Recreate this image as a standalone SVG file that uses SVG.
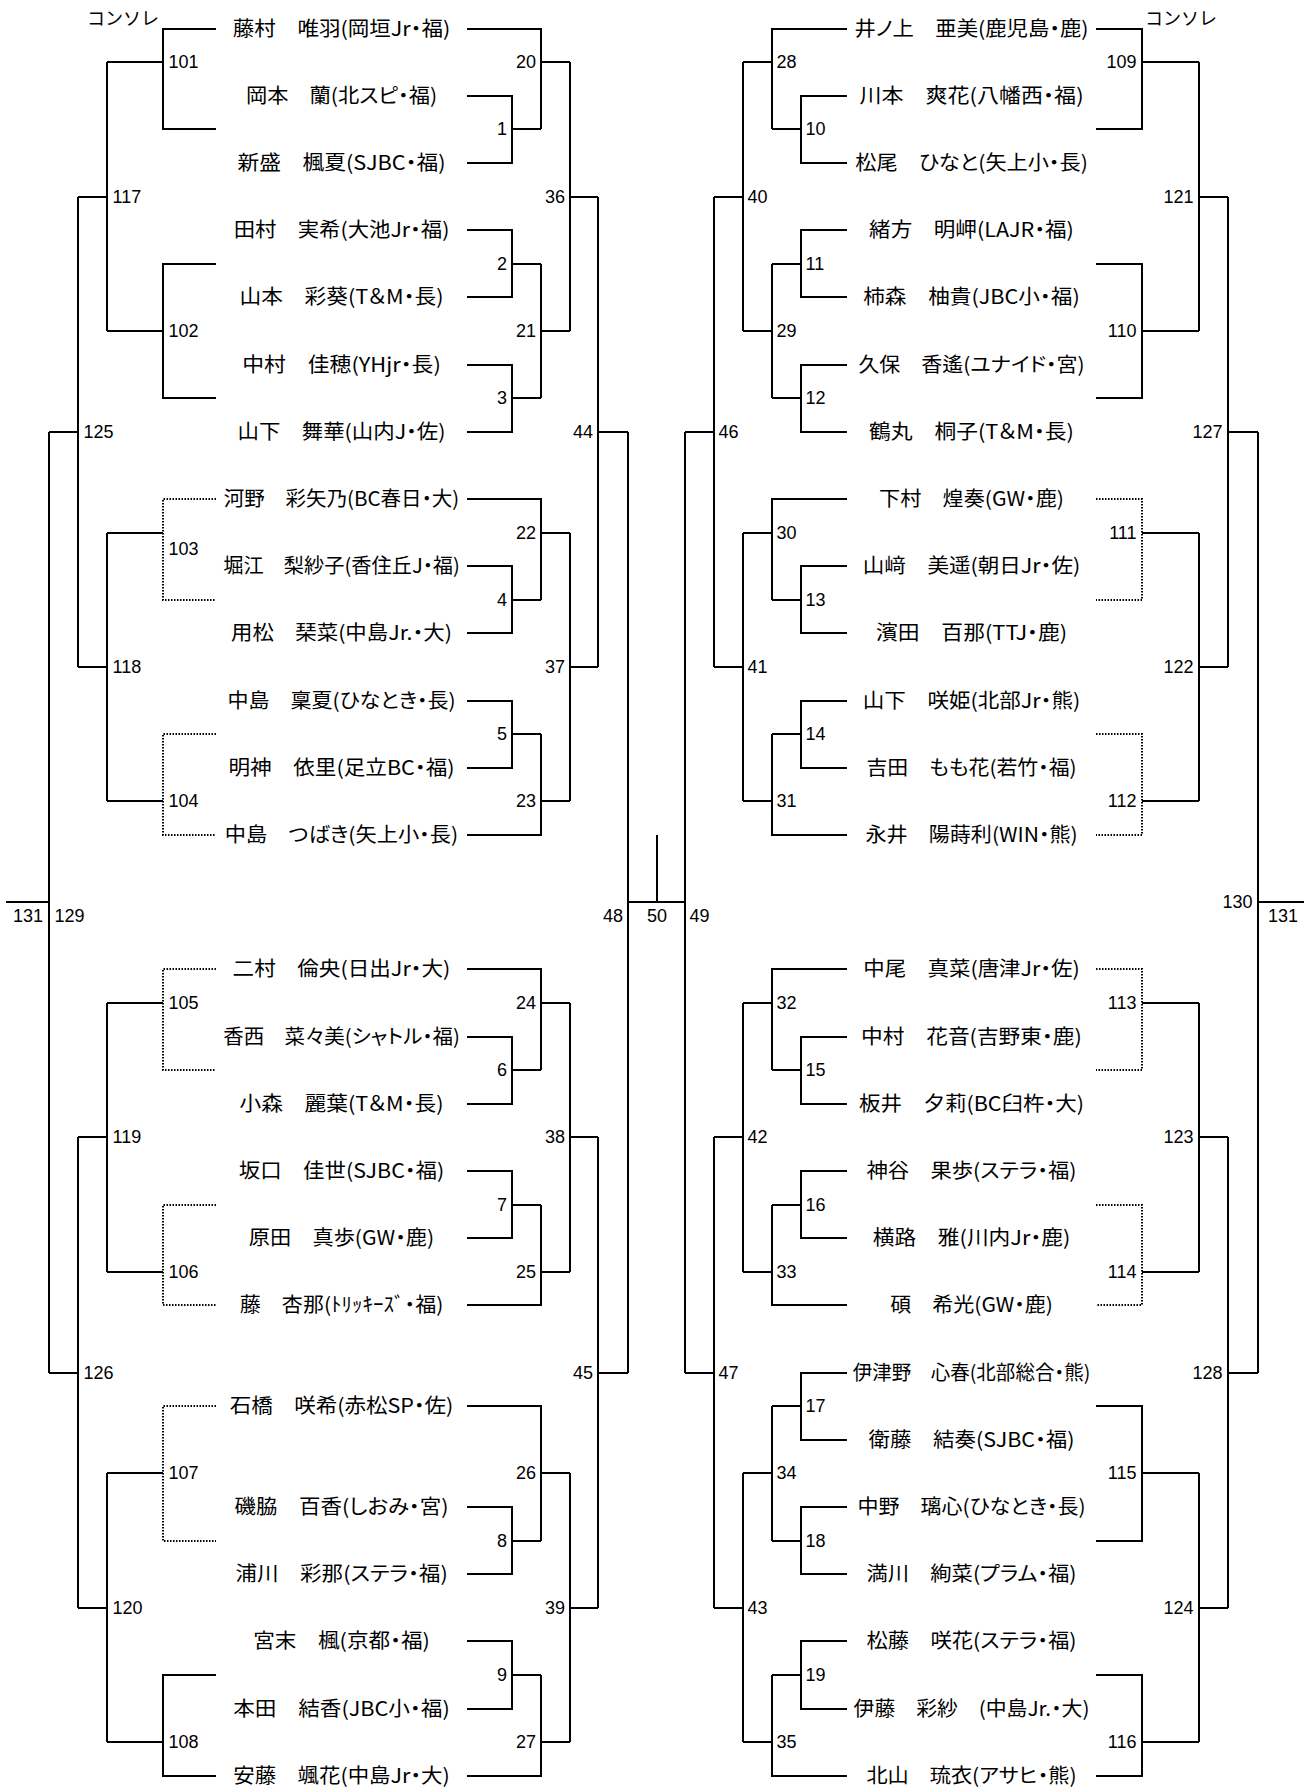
<svg xmlns="http://www.w3.org/2000/svg" width="1311" height="1790" viewBox="0 0 1311 1790">
<style>
.c{fill:none;stroke:#000;stroke-width:2}
.d{fill:none;stroke:#000;stroke-width:2;stroke-dasharray:1.5 1.5}
.n{font-family:"Noto Sans CJK JP","Noto Sans CJK SC",sans-serif;font-size:20px;fill:#000;font-feature-settings:"palt" 1}
.l{font-family:"Liberation Sans",Arial,sans-serif;font-size:18px;fill:#000}
.e{text-anchor:end}
.m{text-anchor:middle}
.h{font-family:"Noto Sans CJK JP",sans-serif;font-size:18px;fill:#000}
</style>
<rect width="1311" height="1790" fill="#fff"/>
<g id="connectors">
<path class="c" d="M467 96H512V163H467M512 129H541M467 29H541V129M541 62H570
M467 230H512V297H467M512 264H541M467 365H512V432H467M512 398H541M541 264V398M541 331H570
M570 62V331M570 197H598
M467 499H541V600M467 566H512V633H467M512 600H541M541 533H570
M467 701H512V768H467M512 734H541M467 835H541V734M541 801H570
M570 533V801M570 667H598M598 197V667M598 432H628
M467 969H541V1070M467 1037H512V1104H467M512 1070H541M541 1003H570
M467 1171H512V1238H467M512 1205H541M467 1305H541V1205M541 1272H570
M570 1003V1272M570 1137H598
M467 1406H541V1541M467 1507H512V1574H467M512 1541H541M541 1473H570
M467 1641H512V1709H467M512 1675H541M467 1776H541V1675M541 1742H570
M570 1473V1742M570 1608H598M598 1137V1608M598 1373H628
M628 432V1373M628 902H685M657 902V835M685 432V1373"/>
<path class="c" d="M847 96H801V163H847M801 129H772M847 29H772V129M772 62H743
M847 230H801V297H847M801 264H772M847 365H801V432H847M801 398H772M772 264V398M772 331H743
M743 62V331M743 197H714
M847 499H772V600M847 566H801V633H847M801 600H772M772 533H743
M847 701H801V768H847M801 734H772M847 835H772V734M772 801H743
M743 533V801M743 667H714M714 197V667M714 432H685
M847 969H772V1070M847 1037H801V1104H847M801 1070H772M772 1003H743
M847 1171H801V1238H847M801 1205H772M847 1305H772V1205M772 1272H743
M743 1003V1272M743 1137H714
M847 1373H801V1440H847M801 1406H772M847 1507H801V1574H847M801 1541H772M772 1406V1541M772 1473H743
M847 1641H801V1709H847M801 1675H772M847 1776H772V1675M772 1742H743
M743 1473V1742M743 1608H714M714 1137V1608M714 1373H685"/>
<path class="c" d="M216 29H163V129H216M163 62H107M216 264H163V398H216M163 331H107M107 62V331M107 197H78
M163 533H107M163 801H107M107 533V801M107 667H78M78 197V667M78 432H49
M163 1003H107M163 1272H107M107 1003V1272M107 1137H78
M163 1473H107M216 1675H163V1776H216M163 1742H107M107 1473V1742M107 1608H78M78 1137V1608M78 1373H49
M49 432V1373M6 902H49"/>
<path class="d" d="M216 499H163V600H216M216 734H163V835H216M216 969H163V1070H216M216 1205H163V1305H216M216 1406H163V1541H216"/>
<path class="c" d="M1096 29H1142V129H1096M1142 62H1199M1096 264H1142V398H1096M1142 331H1199M1199 62V331M1199 197H1228
M1142 533H1199M1142 801H1199M1199 533V801M1199 667H1228M1228 197V667M1228 432H1258
M1142 1003H1199M1142 1272H1199M1199 1003V1272M1199 1137H1228
M1096 1406H1142V1541H1096M1142 1473H1199M1096 1675H1142V1776H1096M1142 1742H1199M1199 1473V1742M1199 1608H1228M1228 1137V1608M1228 1373H1258
M1258 432V1373M1258 902H1304"/>
<path class="d" d="M1096 499H1142V600H1096M1096 734H1142V835H1096M1096 969H1142V1070H1096M1096 1205H1142V1305H1096"/>
</g>
<g id="headers">
<text class="h" x="87" y="25">コンソレ</text>
<text class="h" x="1145" y="25">コンソレ</text>
</g>
<g id="players-left">
<g id="pL0"><text class="n" x="232.8" y="36" textLength="217.4" lengthAdjust="spacingAndGlyphs">藤村　唯羽(岡垣Jr・福)</text></g>
<g id="pL2"><text class="n" x="245.9" y="103" textLength="191.3" lengthAdjust="spacingAndGlyphs">岡本　蘭(北スピ・福)</text></g>
<g id="pL4"><text class="n" x="237.5" y="170" textLength="208" lengthAdjust="spacingAndGlyphs">新盛　楓夏(SJBC・福)</text></g>
<g id="pL6"><text class="n" x="233.7" y="237" textLength="215.7" lengthAdjust="spacingAndGlyphs">田村　実希(大池Jr・福)</text></g>
<g id="pL8"><text class="n" x="239.5" y="304" textLength="204" lengthAdjust="spacingAndGlyphs">山本　彩葵(T＆M・長)</text></g>
<g id="pL10"><text class="n" x="242.3" y="372" textLength="198.5" lengthAdjust="spacingAndGlyphs">中村　佳穂(YHjr・長)</text></g>
<g id="pL12"><text class="n" x="237.5" y="439" textLength="208" lengthAdjust="spacingAndGlyphs">山下　舞華(山内J・佐)</text></g>
<g id="pL14"><text class="n" x="223.8" y="506" textLength="235.5" lengthAdjust="spacingAndGlyphs">河野　彩矢乃(BC春日・大)</text></g>
<g id="pL16"><text class="n" x="223.2" y="573" textLength="236.7" lengthAdjust="spacingAndGlyphs">堀江　梨紗子(香住丘J・福)</text></g>
<g id="pL18"><text class="n" x="231.1" y="640" textLength="220.8" lengthAdjust="spacingAndGlyphs">用松　琹菜(中島Jr.・大)</text></g>
<g id="pL20"><text class="n" x="227.4" y="708" textLength="228.3" lengthAdjust="spacingAndGlyphs">中島　稟夏(ひなとき・長)</text></g>
<g id="pL22"><text class="n" x="228.4" y="775" textLength="226.2" lengthAdjust="spacingAndGlyphs">明神　依里(足立BC・福)</text></g>
<g id="pL24"><text class="n" x="224.8" y="842" textLength="233.4" lengthAdjust="spacingAndGlyphs">中島　つばき(矢上小・長)</text></g>
<g id="pL28"><text class="n" x="232.6" y="976" textLength="217.8" lengthAdjust="spacingAndGlyphs">二村　倫央(日出Jr・大)</text></g>
<g id="pL30"><text class="n" x="223.2" y="1044" textLength="236.7" lengthAdjust="spacingAndGlyphs">香西　菜々美(シャトル・福)</text></g>
<g id="pL32"><text class="n" x="239.5" y="1111" textLength="204" lengthAdjust="spacingAndGlyphs">小森　麗葉(T＆M・長)</text></g>
<g id="pL34"><text class="n" x="238.7" y="1178" textLength="205.6" lengthAdjust="spacingAndGlyphs">坂口　佳世(SJBC・福)</text></g>
<g id="pL36"><text class="n" x="248.8" y="1245" textLength="185.4" lengthAdjust="spacingAndGlyphs">原田　真歩(GW・鹿)</text></g>
<g id="pL38"><text class="n" x="239.8" y="1312" textLength="203.5" lengthAdjust="spacingAndGlyphs">藤　杏那(ﾄﾘｯｷｰｽﾞ・福)</text></g>
<g id="pL41"><text class="n" x="229.7" y="1413" textLength="223.7" lengthAdjust="spacingAndGlyphs">石橋　咲希(赤松SP・佐)</text></g>
<g id="pL44"><text class="n" x="234.5" y="1514" textLength="214" lengthAdjust="spacingAndGlyphs">磯脇　百香(しおみ・宮)</text></g>
<g id="pL46"><text class="n" x="235.4" y="1581" textLength="212.3" lengthAdjust="spacingAndGlyphs">浦川　彩那(ステラ・福)</text></g>
<g id="pL48"><text class="n" x="253.2" y="1648" textLength="176.6" lengthAdjust="spacingAndGlyphs">宮末　楓(京都・福)</text></g>
<g id="pL50"><text class="n" x="233.2" y="1716" textLength="216.6" lengthAdjust="spacingAndGlyphs">本田　結香(JBC小・福)</text></g>
<g id="pL52"><text class="n" x="233.2" y="1783" textLength="216.6" lengthAdjust="spacingAndGlyphs">安藤　颯花(中島Jr・大)</text></g>
</g>
<g id="players-right">
<g id="pR0"><text class="n" x="854.4" y="36" textLength="234.2" lengthAdjust="spacingAndGlyphs">井ノ上　亜美(鹿児島・鹿)</text></g>
<g id="pR2"><text class="n" x="859.5" y="103" textLength="224.1" lengthAdjust="spacingAndGlyphs">川本　爽花(八幡西・福)</text></g>
<g id="pR4"><text class="n" x="855.3" y="170" textLength="232.5" lengthAdjust="spacingAndGlyphs">松尾　ひなと(矢上小・長)</text></g>
<g id="pR6"><text class="n" x="869.1" y="237" textLength="204.8" lengthAdjust="spacingAndGlyphs">緒方　明岬(LAJR・福)</text></g>
<g id="pR8"><text class="n" x="863.2" y="304" textLength="216.6" lengthAdjust="spacingAndGlyphs">柿森　柚貴(JBC小・福)</text></g>
<g id="pR10"><text class="n" x="858.4" y="372" textLength="226.2" lengthAdjust="spacingAndGlyphs">久保　香遙(ユナイド・宮)</text></g>
<g id="pR12"><text class="n" x="869.1" y="439" textLength="204.8" lengthAdjust="spacingAndGlyphs">鶴丸　桐子(T＆M・長)</text></g>
<g id="pR14"><text class="n" x="879" y="506" textLength="185" lengthAdjust="spacingAndGlyphs">下村　煌奏(GW・鹿)</text></g>
<g id="pR16"><text class="n" x="862.8" y="573" textLength="217.4" lengthAdjust="spacingAndGlyphs">山﨑　美遥(朝日Jr・佐)</text></g>
<g id="pR18"><text class="n" x="875.9" y="640" textLength="191.3" lengthAdjust="spacingAndGlyphs">濱田　百那(TTJ・鹿)</text></g>
<g id="pR20"><text class="n" x="862.8" y="708" textLength="217.4" lengthAdjust="spacingAndGlyphs">山下　咲姫(北部Jr・熊)</text></g>
<g id="pR22"><text class="n" x="866.4" y="775" textLength="210.2" lengthAdjust="spacingAndGlyphs">吉田　もも花(若竹・福)</text></g>
<g id="pR24"><text class="n" x="865.4" y="842" textLength="212.3" lengthAdjust="spacingAndGlyphs">永井　陽蒔利(WIN・熊)</text></g>
<g id="pR28"><text class="n" x="863.2" y="976" textLength="216.6" lengthAdjust="spacingAndGlyphs">中尾　真菜(唐津Jr・佐)</text></g>
<g id="pR30"><text class="n" x="861.1" y="1044" textLength="220.8" lengthAdjust="spacingAndGlyphs">中村　花音(吉野東・鹿)</text></g>
<g id="pR32"><text class="n" x="859" y="1111" textLength="225" lengthAdjust="spacingAndGlyphs">板井　夕莉(BC臼杵・大)</text></g>
<g id="pR34"><text class="n" x="866.4" y="1178" textLength="210.2" lengthAdjust="spacingAndGlyphs">神谷　果歩(ステラ・福)</text></g>
<g id="pR36"><text class="n" x="872.7" y="1245" textLength="197.6" lengthAdjust="spacingAndGlyphs">横路　雅(川内Jr・鹿)</text></g>
<g id="pR38"><text class="n" x="890.2" y="1312" textLength="162.7" lengthAdjust="spacingAndGlyphs">碩　希光(GW・鹿)</text></g>
<g id="pR40"><text class="n" x="852.7" y="1380" textLength="237.6" lengthAdjust="spacingAndGlyphs">伊津野　心春(北部総合・熊)</text></g>
<g id="pR42"><text class="n" x="868.5" y="1447" textLength="206" lengthAdjust="spacingAndGlyphs">衛藤　結奏(SJBC・福)</text></g>
<g id="pR44"><text class="n" x="857.4" y="1514" textLength="228.3" lengthAdjust="spacingAndGlyphs">中野　璃心(ひなとき・長)</text></g>
<g id="pR46"><text class="n" x="866.4" y="1581" textLength="210.2" lengthAdjust="spacingAndGlyphs">満川　絢菜(プラム・福)</text></g>
<g id="pR48"><text class="n" x="866.4" y="1648" textLength="210.2" lengthAdjust="spacingAndGlyphs">松藤　咲花(ステラ・福)</text></g>
<g id="pR50"><text class="n" x="853.6" y="1716" textLength="235.9" lengthAdjust="spacingAndGlyphs">伊藤　彩紗　(中島Jr.・大)</text></g>
<g id="pR52"><text class="n" x="866.4" y="1783" textLength="210.2" lengthAdjust="spacingAndGlyphs">北山　琉衣(アサヒ・熊)</text></g>
</g>
<g id="matches-left-main">
<g id="m1"><text class="l e" x="507" y="135">1</text></g>
<g id="m2"><text class="l e" x="507" y="270">2</text></g>
<g id="m3"><text class="l e" x="507" y="404">3</text></g>
<g id="m4"><text class="l e" x="507" y="606">4</text></g>
<g id="m5"><text class="l e" x="507" y="740">5</text></g>
<g id="m6"><text class="l e" x="507" y="1076">6</text></g>
<g id="m7"><text class="l e" x="507" y="1211">7</text></g>
<g id="m8"><text class="l e" x="507" y="1547">8</text></g>
<g id="m9"><text class="l e" x="507" y="1681">9</text></g>
<g id="m20"><text class="l e" x="536" y="68">20</text></g>
<g id="m21"><text class="l e" x="536" y="337">21</text></g>
<g id="m22"><text class="l e" x="536" y="539">22</text></g>
<g id="m23"><text class="l e" x="536" y="807">23</text></g>
<g id="m24"><text class="l e" x="536" y="1009">24</text></g>
<g id="m25"><text class="l e" x="536" y="1278">25</text></g>
<g id="m26"><text class="l e" x="536" y="1479">26</text></g>
<g id="m27"><text class="l e" x="536" y="1748">27</text></g>
<g id="m36"><text class="l e" x="565" y="203">36</text></g>
<g id="m37"><text class="l e" x="565" y="673">37</text></g>
<g id="m38"><text class="l e" x="565" y="1143">38</text></g>
<g id="m39"><text class="l e" x="565" y="1614">39</text></g>
<g id="m44"><text class="l e" x="593" y="438">44</text></g>
<g id="m45"><text class="l e" x="593" y="1379">45</text></g>
<g id="m48"><text class="l e" x="623" y="922">48</text></g>
<g id="m50"><text class="l m" x="657" y="922">50</text></g>
</g>
<g id="matches-right-main">
<g id="m10"><text class="l" x="805.5" y="135">10</text></g>
<g id="m11"><text class="l" x="805.5" y="270">11</text></g>
<g id="m12"><text class="l" x="805.5" y="404">12</text></g>
<g id="m13"><text class="l" x="805.5" y="606">13</text></g>
<g id="m14"><text class="l" x="805.5" y="740">14</text></g>
<g id="m15"><text class="l" x="805.5" y="1076">15</text></g>
<g id="m16"><text class="l" x="805.5" y="1211">16</text></g>
<g id="m17"><text class="l" x="805.5" y="1412">17</text></g>
<g id="m18"><text class="l" x="805.5" y="1547">18</text></g>
<g id="m19"><text class="l" x="805.5" y="1681">19</text></g>
<g id="m28"><text class="l" x="776.5" y="68">28</text></g>
<g id="m29"><text class="l" x="776.5" y="337">29</text></g>
<g id="m30"><text class="l" x="776.5" y="539">30</text></g>
<g id="m31"><text class="l" x="776.5" y="807">31</text></g>
<g id="m32"><text class="l" x="776.5" y="1009">32</text></g>
<g id="m33"><text class="l" x="776.5" y="1278">33</text></g>
<g id="m34"><text class="l" x="776.5" y="1479">34</text></g>
<g id="m35"><text class="l" x="776.5" y="1748">35</text></g>
<g id="m40"><text class="l" x="747.5" y="203">40</text></g>
<g id="m41"><text class="l" x="747.5" y="673">41</text></g>
<g id="m42"><text class="l" x="747.5" y="1143">42</text></g>
<g id="m43"><text class="l" x="747.5" y="1614">43</text></g>
<g id="m46"><text class="l" x="718.5" y="438">46</text></g>
<g id="m47"><text class="l" x="718.5" y="1379">47</text></g>
<g id="m49"><text class="l" x="689.5" y="922">49</text></g>
</g>
<g id="matches-left-consolation">
<g id="m101"><text class="l" x="168.5" y="68">101</text></g>
<g id="m102"><text class="l" x="168.5" y="337">102</text></g>
<g id="m103"><text class="l" x="168.5" y="555">103</text></g>
<g id="m104"><text class="l" x="168.5" y="807">104</text></g>
<g id="m105"><text class="l" x="168.5" y="1009">105</text></g>
<g id="m106"><text class="l" x="168.5" y="1278">106</text></g>
<g id="m107"><text class="l" x="168.5" y="1479">107</text></g>
<g id="m108"><text class="l" x="168.5" y="1748">108</text></g>
<g id="m117"><text class="l" x="112.5" y="203">117</text></g>
<g id="m118"><text class="l" x="112.5" y="673">118</text></g>
<g id="m119"><text class="l" x="112.5" y="1143">119</text></g>
<g id="m120"><text class="l" x="112.5" y="1614">120</text></g>
<g id="m125"><text class="l" x="83.5" y="438">125</text></g>
<g id="m126"><text class="l" x="83.5" y="1379">126</text></g>
<g id="m129"><text class="l" x="54.5" y="922">129</text></g>
<g id="m131L"><text class="l m" x="28" y="922">131</text></g>
</g>
<g id="matches-right-consolation">
<g id="m109"><text class="l e" x="1136.5" y="68">109</text></g>
<g id="m110"><text class="l e" x="1136.5" y="337">110</text></g>
<g id="m111"><text class="l e" x="1136.5" y="539">111</text></g>
<g id="m112"><text class="l e" x="1136.5" y="807">112</text></g>
<g id="m113"><text class="l e" x="1136.5" y="1009">113</text></g>
<g id="m114"><text class="l e" x="1136.5" y="1278">114</text></g>
<g id="m115"><text class="l e" x="1136.5" y="1479">115</text></g>
<g id="m116"><text class="l e" x="1136.5" y="1748">116</text></g>
<g id="m121"><text class="l e" x="1193.5" y="203">121</text></g>
<g id="m122"><text class="l e" x="1193.5" y="673">122</text></g>
<g id="m123"><text class="l e" x="1193.5" y="1143">123</text></g>
<g id="m124"><text class="l e" x="1193.5" y="1614">124</text></g>
<g id="m127"><text class="l e" x="1222.5" y="438">127</text></g>
<g id="m128"><text class="l e" x="1222.5" y="1379">128</text></g>
<g id="m130"><text class="l e" x="1252.5" y="908">130</text></g>
<g id="m131R"><text class="l m" x="1283" y="922">131</text></g>
</g>
</svg>
